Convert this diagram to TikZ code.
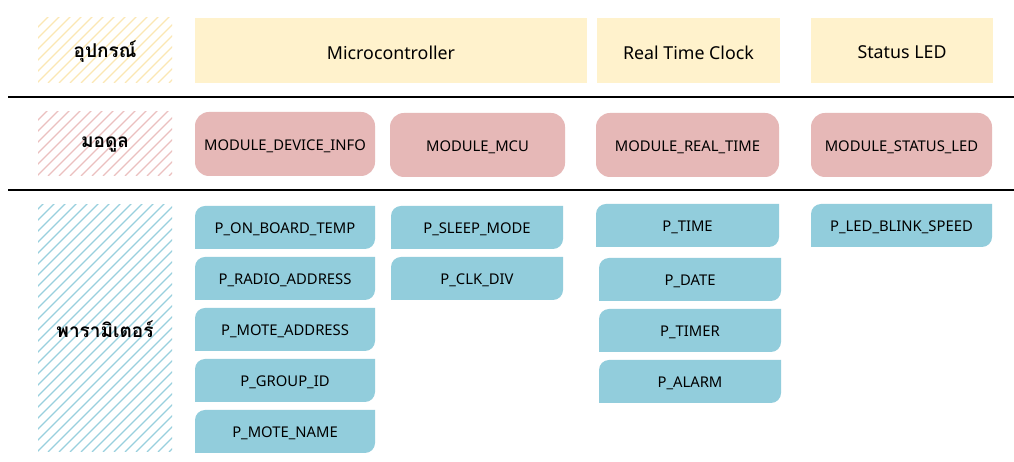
\documentclass[tikz,border=0pt]{standalone}
\usepackage{fontspec}
\setmainfont{Noto Sans}
\newfontfamily\thaifont[Script=Thai]{Loma}

\definecolor{hdrfill}{HTML}{FFF2CC}
\definecolor{hdrhatch}{HTML}{FBE7B4}
\definecolor{modfill}{HTML}{E6B8B7}
\definecolor{modhatch}{HTML}{EBC0BF}
\definecolor{prmfill}{HTML}{92CDDC}
\definecolor{prmhatch}{HTML}{98D0DE}

\tikzset{
  thailabel/.style={inner sep=0pt, font=\thaifont\bfseries\fontsize{19}{22}\selectfont, text=black},
  hdrtext/.style={inner sep=0pt, font=\fontsize{17.8}{21}\selectfont, text=black},
  boxtext/.style={inner sep=0pt, font=\fontsize{14.8}{17}\selectfont, text=black},
  rule/.style={line width=1.4pt, black},
}

% hatched label cell: name, x1, y1, x2, y2 (top-down pixels), hatch colour, text
\newcommand{\hatchcell}[7]{%
  \begin{scope}
    \clip (#2,{462-#3}) rectangle (#4,{462-#5});
    \foreach \k in {0,11,...,440}
      \draw[#6, line width=1.3pt] ({#2-265+\k},{462-#5}) -- ++(280,280);
  \end{scope}
  \node[thailabel] (#1) at ({(#2+#4)/2},{462-(#3+#5)/2-1}) {#7};}

% plain header cell
\newcommand{\hdrcell}[6]{%
  \path[fill=hdrfill] (#2,{462-#3}) rectangle (#4,{462-#5});
  \node[hdrtext] (#1) at ({(#2+#4)/2},{462-(#3+#5)/2-2}) {#6};}

% rounded module cell
\newcommand{\modcell}[6]{%
  \path[fill=modfill, rounded corners=14pt] (#2,{462-#3}) rectangle (#4,{462-#5});
  \node[boxtext] (#1) at ({(#2+#4)/2},{462-(#3+#5)/2-2}) {#6};}

% parameter cell: rounded top-left and bottom-right corners
\newcommand{\paramcell}[6]{%
  \fill[prmfill] (#2,{462-#5}) -- (#2,{462-#3-10}) arc[start angle=180, end angle=90, radius=10pt]
    -- (#4,{462-#3}) -- (#4,{462-#5+10}) arc[start angle=0, end angle=-90, radius=10pt] -- cycle;
  \node[boxtext] (#1) at ({(#2+#4)/2},{462-(#3+#5)/2-2}) {#6};}

\begin{document}
\begin{tikzpicture}[x=1pt, y=1pt]
\useasboundingbox[fill=white] (0,0) rectangle (1014,462);

% row separators
\coordinate (r1a) at (8,365);   \coordinate (r1b) at (1014,365);
\coordinate (r2a) at (8,272);   \coordinate (r2b) at (1014,272);
\draw[rule] (r1a) -- (r1b);
\draw[rule] (r2a) -- (r2b);

% row labels
\hatchcell{lblDevice}{38}{18}{172}{83}{hdrhatch}{อุปกรณ์}
\hatchcell{lblModule}{38}{112}{172}{176}{modhatch}{มอดูล}
\hatchcell{lblParam}{38}{205}{172}{452}{prmhatch}{พารามิเตอร์}

% devices
\hdrcell{devMCU}{195}{18}{587}{83}{Microcontroller}
\hdrcell{devRTC}{597}{18}{780}{83}{Real Time Clock}
\hdrcell{devLED}{811}{18}{993}{83}{Status LED}

% modules
\modcell{modInfo}{195}{112}{375}{176}{MODULE\_DEVICE\_INFO}
\modcell{modMCU}{390}{113}{565}{177}{MODULE\_MCU}
\modcell{modRTC}{596}{113}{779}{177}{MODULE\_REAL\_TIME}
\modcell{modLED}{811}{113}{992}{177}{MODULE\_STATUS\_LED}

% parameters
\paramcell{pTemp}{195}{206}{375}{249}{P\_ON\_BOARD\_TEMP}
\paramcell{pRadio}{195}{257}{375}{300}{P\_RADIO\_ADDRESS}
\paramcell{pMote}{195}{308}{375}{351}{P\_MOTE\_ADDRESS}
\paramcell{pGroup}{195}{359}{375}{402}{P\_GROUP\_ID}
\paramcell{pName}{195}{410}{375}{453}{P\_MOTE\_NAME}

\paramcell{pSleep}{391}{206}{563}{249}{P\_SLEEP\_MODE}
\paramcell{pClk}{391}{257}{563}{300}{P\_CLK\_DIV}

\paramcell{pTime}{596}{204}{779}{247}{P\_TIME}
\paramcell{pDate}{599}{258}{781}{301}{P\_DATE}
\paramcell{pTimer}{599}{309}{781}{352}{P\_TIMER}
\paramcell{pAlarm}{599}{360}{781}{403}{P\_ALARM}

\paramcell{pBlink}{811}{204}{992}{247}{P\_LED\_BLINK\_SPEED}
\end{tikzpicture}
\end{document}
